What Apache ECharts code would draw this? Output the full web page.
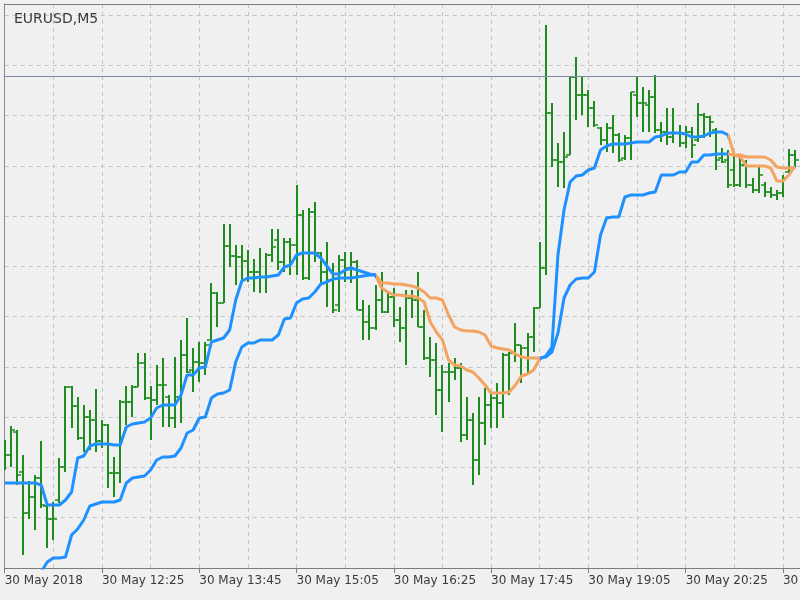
<!DOCTYPE html>
<html>
<head>
<meta charset="utf-8">
<title>EURUSD,M5</title>
<script src="https://cdn.jsdelivr.net/npm/echarts@6/dist/echarts.min.js"></script>
<style>
  html, body { margin: 0; padding: 0; background: #f0f0f0; }
  #chart { width: 800px; height: 600px; }
</style>
</head>
<body>
<div id="chart"></div>
<script>
  // M5 bars, 30 May 2018 (last 3 slots are empty space on the right)
  var times = [
    '11:05','11:10','11:15','11:20','11:25','11:30','11:35','11:40','11:45','11:50','11:55',
    '12:00','12:05','12:10','12:15','12:20','12:25','12:30','12:35','12:40','12:45','12:50','12:55',
    '13:00','13:05','13:10','13:15','13:20','13:25','13:30','13:35','13:40','13:45','13:50','13:55',
    '14:00','14:05','14:10','14:15','14:20','14:25','14:30','14:35','14:40','14:45','14:50','14:55',
    '15:00','15:05','15:10','15:15','15:20','15:25','15:30','15:35','15:40','15:45','15:50','15:55',
    '16:00','16:05','16:10','16:15','16:20','16:25','16:30','16:35','16:40','16:45','16:50','16:55',
    '17:00','17:05','17:10','17:15','17:20','17:25','17:30','17:35','17:40','17:45','17:50','17:55',
    '18:00','18:05','18:10','18:15','18:20','18:25','18:30','18:35','18:40','18:45','18:50','18:55',
    '19:00','19:05','19:10','19:15','19:20','19:25','19:30','19:35','19:40','19:45','19:50','19:55',
    '20:00','20:05','20:10','20:15','20:20','20:25','20:30','20:35','20:40','20:45','20:50','20:55',
    '21:00','21:05','21:10','21:15','21:20','21:25','21:30','21:35','21:40','21:45','21:50','21:55',
    '22:00','22:05','22:10'
  ];

  var open = [
    1.15700,1.15720,1.15766,1.15686,1.15604,1.15636,1.15674,1.15618,1.15592,1.15630,
    1.15696,1.15856,1.15818,1.15754,1.15796,1.15790,1.15748,1.15780,1.15684,1.15684,
    1.15826,1.15826,1.15856,1.15904,1.15834,1.15830,1.15860,1.15836,1.15794,1.15836,
    1.15920,1.15890,1.15906,1.15904,1.15950,1.16044,1.16024,1.16138,1.16118,1.16116,
    1.16108,1.16086,1.16086,1.16076,1.16120,1.16150,1.16106,1.16146,1.16140,1.16200,
    1.16074,1.16206,1.16124,1.16086,1.16070,1.16020,1.16110,1.16094,1.16106,1.16010,
    1.15986,1.15974,1.16030,1.16006,1.16036,1.15990,1.15974,1.16034,1.16030,1.15976,
    1.15914,1.15910,1.15850,1.15886,1.15886,1.15894,1.15760,1.15790,1.15710,1.15784,
    1.15820,1.15834,1.15824,1.15920,1.15924,1.15940,1.15934,1.15956,1.16014,1.16094,
    1.16404,1.16310,1.16306,1.16320,1.16476,1.16440,1.16440,1.16414,1.16374,1.16350,
    1.16374,1.16360,1.16314,1.16354,1.16440,1.16424,1.16420,1.16436,1.16370,1.16366,
    1.16356,1.16364,1.16344,1.16366,1.16350,1.16400,1.16396,1.16370,1.16314,1.16310,
    1.16290,1.16260,1.16300,1.16260,1.16250,1.16260,1.16246,1.16240,1.16244,1.16286,
    1.16320
  ];
  var high = [
    1.15750,1.15778,1.15770,1.15720,1.15668,1.15680,1.15748,1.15620,1.15626,1.15714,
    1.15858,1.15858,1.15836,1.15820,1.15810,1.15852,1.15790,1.15782,1.15716,1.15830,
    1.15858,1.15860,1.15924,1.15924,1.15858,1.15900,1.15914,1.15840,1.15916,1.15950,
    1.15994,1.15934,1.15946,1.15946,1.16064,1.16046,1.16182,1.16182,1.16140,1.16140,
    1.16130,1.16112,1.16134,1.16124,1.16172,1.16172,1.16154,1.16154,1.16260,1.16210,
    1.16214,1.16226,1.16126,1.16146,1.16104,1.16120,1.16126,1.16126,1.16110,1.16030,
    1.16020,1.16060,1.16086,1.16046,1.16054,1.16016,1.16050,1.16050,1.16086,1.16010,
    1.15956,1.15944,1.15900,1.15904,1.15914,1.15904,1.15836,1.15804,1.15836,1.15854,
    1.15844,1.15864,1.15924,1.15926,1.15984,1.15940,1.15964,1.16016,1.16146,1.16580,
    1.16424,1.16344,1.16366,1.16476,1.16516,1.16476,1.16450,1.16428,1.16376,1.16384,
    1.16400,1.16364,1.16360,1.16446,1.16476,1.16456,1.16450,1.16480,1.16386,1.16414,
    1.16414,1.16380,1.16378,1.16376,1.16424,1.16404,1.16398,1.16374,1.16334,1.16330,
    1.16326,1.16320,1.16310,1.16274,1.16300,1.16266,1.16256,1.16250,1.16280,1.16332,
    1.16330
  ];
  var low = [
    1.15690,1.15696,1.15660,1.15520,1.15592,1.15570,1.15614,1.15534,1.15550,1.15624,
    1.15686,1.15774,1.15750,1.15726,1.15730,1.15726,1.15734,1.15654,1.15636,1.15664,
    1.15780,1.15796,1.15856,1.15830,1.15750,1.15820,1.15776,1.15776,1.15774,1.15784,
    1.15884,1.15846,1.15866,1.15880,1.15950,1.15976,1.16024,1.16096,1.16060,1.16070,
    1.16066,1.16046,1.16044,1.16044,1.16106,1.16090,1.16086,1.16080,1.16080,1.16070,
    1.16070,1.16106,1.16060,1.16016,1.16004,1.16006,1.16066,1.16064,1.16010,1.15950,
    1.15950,1.15970,1.16004,1.16004,1.15976,1.15946,1.15900,1.15994,1.15976,1.15910,
    1.15876,1.15800,1.15766,1.15826,1.15870,1.15746,1.15750,1.15660,1.15680,1.15740,
    1.15774,1.15774,1.15794,1.15840,1.15906,1.15864,1.15884,1.15926,1.16014,1.16080,
    1.16296,1.16256,1.16254,1.16320,1.16390,1.16400,1.16376,1.16376,1.16340,1.16326,
    1.16324,1.16306,1.16310,1.16310,1.16396,1.16366,1.16366,1.16364,1.16346,1.16340,
    1.16344,1.16336,1.16334,1.16314,1.16346,1.16354,1.16356,1.16290,1.16304,1.16254,
    1.16256,1.16256,1.16254,1.16244,1.16244,1.16236,1.16234,1.16230,1.16236,1.16284,
    1.16296
  ];
  var close = [
    1.15720,1.15770,1.15680,1.15604,1.15636,1.15674,1.15620,1.15592,1.15592,1.15696,
    1.15856,1.15818,1.15754,1.15796,1.15790,1.15748,1.15780,1.15684,1.15684,1.15826,
    1.15826,1.15856,1.15904,1.15834,1.15830,1.15860,1.15860,1.15794,1.15836,1.15920,
    1.15886,1.15906,1.15904,1.15940,1.16044,1.16024,1.16138,1.16118,1.16116,1.16108,
    1.16086,1.16086,1.16076,1.16120,1.16136,1.16106,1.16146,1.16140,1.16200,1.16074,
    1.16206,1.16124,1.16086,1.16070,1.16010,1.16110,1.16094,1.16106,1.16010,1.15986,
    1.15974,1.16030,1.16006,1.16036,1.15990,1.15974,1.16034,1.16030,1.15976,1.15914,
    1.15910,1.15850,1.15886,1.15886,1.15894,1.15760,1.15790,1.15710,1.15784,1.15820,
    1.15834,1.15824,1.15920,1.15924,1.15940,1.15934,1.15956,1.16014,1.16094,1.16404,
    1.16310,1.16306,1.16316,1.16476,1.16440,1.16440,1.16414,1.16380,1.16350,1.16374,
    1.16360,1.16310,1.16354,1.16446,1.16424,1.16424,1.16436,1.16370,1.16366,1.16356,
    1.16364,1.16344,1.16366,1.16340,1.16400,1.16396,1.16386,1.16310,1.16306,1.16260,
    1.16260,1.16300,1.16260,1.16250,1.16280,1.16246,1.16240,1.16244,1.16274,1.16320,
    1.16310
  ];

  // indicator lines: fast and slow
  var fastLine = [
    1.15664,1.15664,1.15664,1.15664,1.15664,1.15664,1.15660,1.15620,1.15620,1.15620,
    1.15630,1.15646,1.15714,1.15718,1.15738,1.15742,1.15742,1.15742,1.15740,1.15740,
    1.15776,1.15782,1.15784,1.15786,1.15794,1.15814,1.15820,1.15820,1.15820,1.15840,
    1.15880,1.15880,1.15894,1.15896,1.15946,1.15950,1.15954,1.15970,1.16030,1.16068,
    1.16074,1.16074,1.16076,1.16076,1.16078,1.16080,1.16096,1.16100,1.16120,1.16124,
    1.16124,1.16124,1.16114,1.16098,1.16082,1.16082,1.16090,1.16094,1.16090,1.16086,
    1.16082,1.16080,1.16054,1.16046,1.16040,1.16040,1.16038,1.16038,1.16034,1.16026,
    1.15986,1.15966,1.15950,1.15910,1.15900,1.15898,1.15890,1.15886,1.15874,1.15860,
    1.15844,1.15844,1.15844,1.15846,1.15860,1.15878,1.15882,1.15890,1.15912,1.15918,
    1.15936,1.16120,1.16210,1.16266,1.16278,1.16280,1.16290,1.16294,1.16330,1.16338,
    1.16342,1.16342,1.16342,1.16344,1.16346,1.16346,1.16346,1.16356,1.16358,1.16364,
    1.16364,1.16364,1.16362,1.16356,1.16356,1.16358,1.16364,1.16366,1.16366,1.16360,
    1.16320,1.16316,1.16298,1.16298,1.16298,1.16298,1.16294,1.16268,1.16268,1.16280,
    1.16298
  ];
  var slowLine = [
    1.15478,1.15478,1.15478,1.15478,1.15478,1.15478,1.15486,1.15506,1.15514,1.15514,
    1.15516,1.15560,1.15572,1.15590,1.15618,1.15622,1.15626,1.15626,1.15626,1.15630,
    1.15664,1.15674,1.15676,1.15678,1.15690,1.15710,1.15716,1.15716,1.15718,1.15734,
    1.15764,1.15770,1.15794,1.15796,1.15834,1.15842,1.15844,1.15850,1.15906,1.15936,
    1.15944,1.15944,1.15950,1.15950,1.15950,1.15960,1.15992,1.15994,1.16024,1.16032,
    1.16034,1.16046,1.16062,1.16066,1.16072,1.16074,1.16074,1.16074,1.16076,1.16078,
    1.16080,1.16080,1.16064,1.16064,1.16062,1.16062,1.16060,1.16058,1.16054,1.16046,
    1.16034,1.16034,1.16030,1.16000,1.15976,1.15970,1.15968,1.15968,1.15966,1.15960,
    1.15938,1.15934,1.15932,1.15930,1.15922,1.15916,1.15914,1.15914,1.15914,1.15916,
    1.15926,1.15964,1.16034,1.16060,1.16072,1.16074,1.16074,1.16086,1.16160,1.16194,
    1.16196,1.16196,1.16236,1.16240,1.16240,1.16240,1.16244,1.16246,1.16280,1.16280,
    1.16280,1.16286,1.16286,1.16306,1.16306,1.16320,1.16320,1.16322,1.16322,1.16322,
    1.16320,1.16320,1.16316,1.16316,1.16316,1.16316,1.16310,1.16296,1.16294,1.16294,
    1.16294
  ];

  var lastPrice = 1.16478;

  var upColor = '#1e90ff';
  var downColor = '#f4a460';
  var barColor = '#1f8c1f';

  var bars = open.map(function (o, i) {
    return [i, o, high[i], low[i], close[i]];
  });

  function drawBar(params, api) {
    var i = api.value(0);
    var x = Math.round(api.coord([i, api.value(2)])[0]);
    var yh = api.coord([i, api.value(2)])[1];
    var yl = api.coord([i, api.value(3)])[1];
    var yo = Math.round(api.coord([i, api.value(1)])[1]);
    var yc = Math.round(api.coord([i, api.value(4)])[1]);
    var tick = { stroke: barColor, lineWidth: 1.5 };
    return {
      type: 'group',
      children: [
        { type: 'line', shape: { x1: x, y1: yh, x2: x, y2: yl }, style: { stroke: barColor, lineWidth: 2 } },
        { type: 'line', shape: { x1: x - 4, y1: yo, x2: x, y2: yo }, style: tick },
        { type: 'line', shape: { x1: x, y1: yc, x2: x + 4, y2: yc }, style: tick }
      ]
    };
  }

  var chart = echarts.init(document.getElementById('chart'));
  var font = 'DejaVu Sans';

  var option = {
    backgroundColor: '#f0f0f0',
    animation: false,
    title: {
      text: 'EURUSD,M5',
      left: 9,
      top: 7,
      textStyle: { fontFamily: font, fontSize: 14, fontWeight: 'normal', color: '#3a3a3a' }
    },
    grid: [
      { left: 4.7, right: -13.3, top: 4, bottom: 32, outerBoundsMode: 'none', containLabel: false },
      { left: 4.7, right: -13.3, top: 15, bottom: 32, outerBoundsMode: 'none', containLabel: false }
    ],
    xAxis: [
      {
        gridIndex: 0,
        type: 'category',
        data: times,
        boundaryGap: false,
        axisLine: { lineStyle: { color: '#7c7c7c', width: 1 } },
        axisTick: { interval: 15, length: 5, lineStyle: { color: '#7c7c7c' } },
        axisLabel: {
          interval: 15,
          align: 'left',
          margin: 7,
          color: '#3a3a3a',
          fontFamily: font,
          fontSize: 12,
          formatter: function (val, idx) {
            return idx === 0 ? '30 May 2018' : '30 May ' + val;
          }
        },
        splitLine: { show: true, interval: 7, lineStyle: { color: '#c4c4c4', type: [4, 4] } }
      },
      {
        gridIndex: 0,
        type: 'category',
        data: times,
        boundaryGap: false,
        position: 'top',
        axisLine: { lineStyle: { color: '#7c7c7c', width: 1 } },
        axisTick: { show: false },
        axisLabel: { show: false }
      },
      {
        gridIndex: 1,
        type: 'category',
        data: times,
        boundaryGap: false,
        show: false
      }
    ],
    yAxis: [
      {
        gridIndex: 0,
        type: 'value',
        min: 1.15494,
        max: 1.16622,
        axisLine: { show: true, lineStyle: { color: '#8a8a8a', width: 1 } },
        axisTick: { show: false },
        axisLabel: { show: false },
        splitLine: { show: false }
      },
      {
        gridIndex: 1,
        type: 'value',
        min: 1.155,
        max: 1.166,
        interval: 0.001,
        axisLine: { show: false },
        axisTick: { show: false },
        axisLabel: { show: false },
        splitLine: { show: true, lineStyle: { color: '#c4c4c4', type: [4, 4] } }
      }
    ],
    visualMap: {
      show: false,
      type: 'piecewise',
      dimension: 0,
      seriesIndex: [1, 2],
      pieces: [
        { lte: 61, color: upColor },
        { gt: 61, lte: 88, color: downColor },
        { gt: 88, lte: 119, color: upColor },
        { gt: 119, lte: 129.5, color: downColor },
        { gt: 129.5, color: upColor }
      ]
    },
    series: [
      {
        type: 'custom',
        name: 'EURUSD',
        xAxisIndex: 0,
        yAxisIndex: 0,
        renderItem: drawBar,
        encode: { x: 0, y: [1, 2, 3, 4] },
        data: bars,
        clip: true,
        z: 3
      },
      {
        type: 'line',
        name: 'fast',
        xAxisIndex: 0,
        yAxisIndex: 0,
        data: fastLine,
        showSymbol: false,
        clip: true,
        z: 4,
        lineStyle: { width: 3 }
      },
      {
        type: 'line',
        name: 'slow',
        xAxisIndex: 0,
        yAxisIndex: 0,
        data: slowLine,
        showSymbol: false,
        clip: true,
        z: 4,
        lineStyle: { width: 3 }
      },
      {
        type: 'line',
        name: 'price',
        xAxisIndex: 0,
        yAxisIndex: 0,
        data: [],
        z: 2,
        markLine: {
          silent: true,
          precision: 5,
          symbol: ['none', 'none'],
          label: { show: false },
          lineStyle: { color: '#7b8aa2', type: 'solid', width: 1 },
          data: [{ yAxis: lastPrice }]
        }
      }
    ]
  };

  chart.setOption(option);
</script>
</body>
</html>
